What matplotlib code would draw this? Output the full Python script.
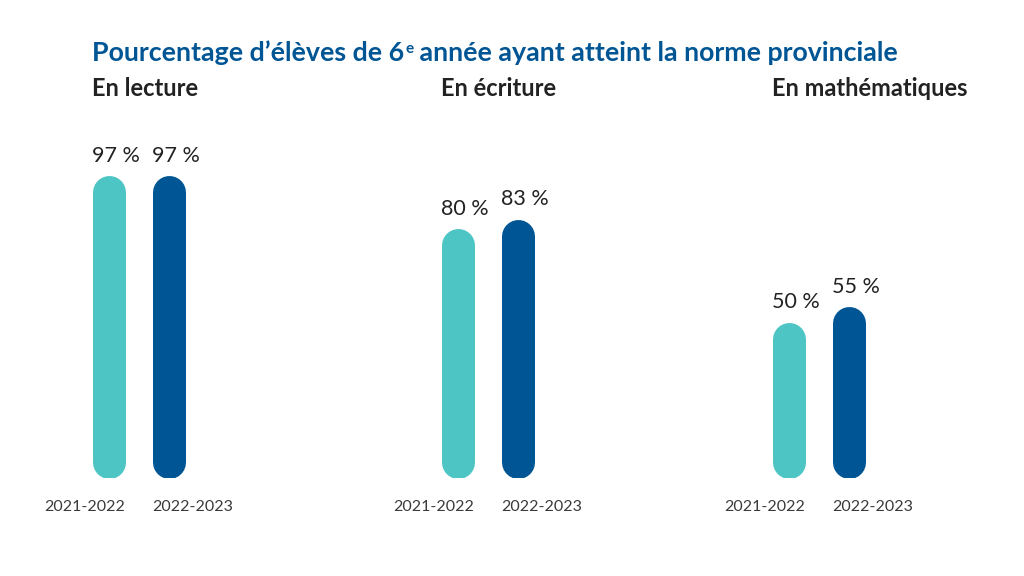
import matplotlib.pyplot as plt

plt.rcParams['font.family'] = ['Lato', 'DejaVu Sans']

# data
groups = ['En lecture', 'En écriture', 'En mathématiques']
years = ['2021-2022', '2022-2023']
v_2021 = [97, 80, 50]
v_2022 = [97, 83, 55]

colors = ['#4cc5c4', '#005594']

W, H = 1024, 576
fig = plt.figure(figsize=(W / 100, H / 100), dpi=100)
fig.patch.set_facecolor('white')

# axes: x in pixels, y in percent (bottom at 478 px, 3.12 px per %)
px_per_pct = 3.12
base_px = 478
ax = fig.add_axes([0, (H - base_px) / H, 1, 100 * px_per_pct / H])
ax.set_xlim(0, W)
ax.set_ylim(0, 100)
ax.axis('off')

group_left = [92, 441, 772]
bar_w = 33
gap = 60
r = bar_w / 2 / px_per_pct  # cap radius in percent units
lw = bar_w * 72 / 100

for i, g in enumerate(groups):
    x0 = group_left[i]
    for j, vals in enumerate([v_2021, v_2022]):
        xc = x0 + bar_w / 2 + j * gap
        v = vals[i]
        ax.plot([xc, xc], [r, v - r], color=colors[j], lw=lw,
                solid_capstyle='round')
        ax.annotate(f'{v} %', (xc - bar_w / 2, v), xytext=(0, 7),
                    textcoords='offset points', ha='left', va='bottom',
                    fontsize=15.5, color='#222222')
        # year labels: first right-aligned to bar, second left-aligned
        if j == 0:
            ax.annotate(years[j], (xc + bar_w / 2, 0), xytext=(0, -21),
                        textcoords='offset points', ha='right', va='center',
                        fontsize=11.5, color='#3a3a3a')
        else:
            ax.annotate(years[j], (xc - bar_w / 2, 0), xytext=(0, -21),
                        textcoords='offset points', ha='left', va='center',
                        fontsize=11.5, color='#3a3a3a')
    fig.text(x0 / W, 1 - 96 / H, g, ha='left', va='baseline',
             fontsize=17, fontweight='bold', color='#222222')

# title with superscript "e"
ty = 1 - 61 / H
t1 = fig.text(92 / W, ty, 'Pourcentage d’élèves de 6', ha='left',
              va='baseline', fontsize=19.3, fontweight='bold', color='#005594')
fig.canvas.draw()
bb = t1.get_window_extent()
t2 = fig.text(bb.x1 / W + 1 / W, ty + 8 / H, 'e', ha='left',
              va='baseline', fontsize=11, fontweight='bold', color='#005594')
bb2 = t2.get_window_extent()
fig.text(bb2.x1 / W, ty, ' année ayant atteint la norme provinciale',
         ha='left', va='baseline', fontsize=19.3, fontweight='bold',
         color='#005594')

fig.savefig('out.png', dpi=100)
